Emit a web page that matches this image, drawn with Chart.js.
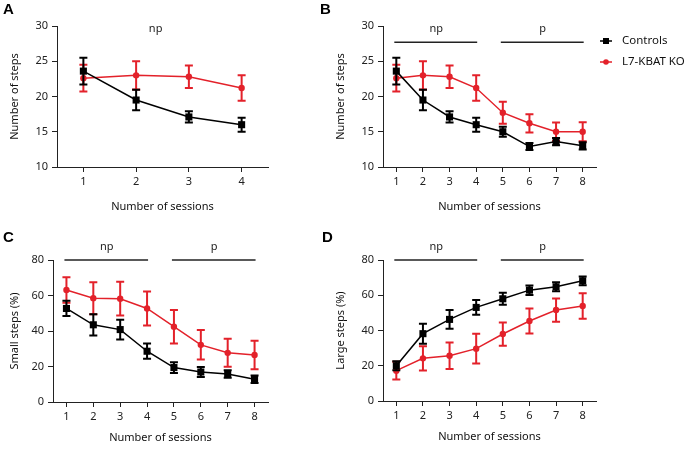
<!DOCTYPE html>
<html><head><meta charset="utf-8">
<script src="https://cdn.jsdelivr.net/npm/chart.js@4/dist/chart.umd.min.js"></script>
<style>
html,body{margin:0;padding:0;background:#fff;}
#wrap{position:relative;width:688px;height:452px;overflow:hidden;background:#fff;}
canvas{position:absolute;}
</style></head><body>
<div id="wrap">
<canvas id="cA" style="left:0px;top:0px;width:330px;height:220px" width="330" height="220"></canvas>
<canvas id="cB" style="left:316px;top:0px;width:372px;height:220px" width="372" height="220"></canvas>
<canvas id="cC" style="left:0px;top:220px;width:330px;height:232px" width="330" height="232"></canvas>
<canvas id="cD" style="left:316px;top:220px;width:372px;height:232px" width="372" height="232"></canvas>
</div>
<script>
// ---------- data ----------
const seriesNames = ['Controls', 'L7-KBAT KO'];
const sessions4 = ['1', '2', '3', '4'];
const sessions8 = ['1', '2', '3', '4', '5', '6', '7', '8'];

const stepsCtrl    = [23.6, 19.5, 17.1, 16.0, 15.0, 12.9, 13.6, 13.0];
const stepsCtrlErr = [1.9, 1.45, 0.8, 1.0, 0.7, 0.5, 0.5, 0.5];
const stepsKO      = [22.6, 23.0, 22.8, 21.2, 17.7, 16.2, 15.0, 15.0];
const stepsKOErr   = [1.9, 2.0, 1.6, 1.8, 1.55, 1.3, 1.3, 1.35];

const smallCtrl    = [52.7, 43.5, 40.8, 28.6, 19.4, 16.9, 15.8, 12.8];
const smallCtrlErr = [4.3, 6.0, 5.6, 4.3, 3.0, 2.8, 2.1, 2.1];
const smallKO      = [63.1, 58.5, 58.2, 52.7, 42.4, 32.2, 27.7, 26.5];
const smallKOErr   = [7.2, 9.0, 9.5, 9.6, 9.5, 8.3, 7.9, 8.0];

const largeCtrl    = [20.0, 38.2, 46.3, 53.1, 58.0, 62.9, 64.8, 68.2];
const largeCtrlErr = [2.5, 5.7, 5.3, 4.2, 3.4, 2.7, 2.6, 2.5];
const largeKO      = [17.2, 24.2, 25.7, 29.7, 38.0, 45.4, 51.6, 53.9];
const largeKOErr   = [5.0, 6.9, 7.5, 8.4, 6.6, 7.1, 6.6, 7.2];

const stepsAxis = {min: 10, max: 30, step: 5};
const pctAxis   = {min: 0, max: 80, step: 20};
const sigLabels = ['np', 'p'];
const sigRanges = [[1, 4], [5, 8]];

// ---------- style ----------
const BLACK = '#000000';
const RED = '#e3212a';
const AX = '#222222';
const FONT = '"Noto Sans", "Open Sans", sans-serif';

const errorBars = {
  id: 'errorBars',
  beforeDatasetDraw(chart, args) {
    const ds = chart.data.datasets[args.index];
    if (!ds.errors) return;
    const ys = chart.scales.y;
    const ctx = chart.ctx;
    ctx.save();
    ctx.strokeStyle = ds.borderColor;
    ctx.lineWidth = 2;
    args.meta.data.forEach((pt, i) => {
      const v = ds.data[i], e = ds.errors[i];
      const yt = ys.getPixelForValue(v + e), yb = ys.getPixelForValue(v - e);
      const cw = 4;
      ctx.beginPath();
      ctx.moveTo(pt.x, yt); ctx.lineTo(pt.x, yb);
      ctx.moveTo(pt.x - cw, yt); ctx.lineTo(pt.x + cw, yt);
      ctx.moveTo(pt.x - cw, yb); ctx.lineTo(pt.x + cw, yb);
      ctx.stroke();
    });
    ctx.restore();
  }
};

const deco = {
  id: 'deco',
  afterDraw(chart, args, opts) {
    const ctx = chart.ctx, xs = chart.scales.x, ys = chart.scales.y;
    ctx.save();
    ctx.fillStyle = '#000';
    ctx.textBaseline = 'middle';
    ctx.textAlign = 'left';
    ctx.font = 'bold 15px "Liberation Sans", Arial, sans-serif';
    ctx.fillText(opts.letter, opts.letterX, opts.letterY);
    ctx.font = '11px ' + FONT;
    ctx.fillStyle = '#222';
    ctx.textAlign = 'center';
    (opts.sig || []).forEach(s => {
      const x1 = xs.getPixelForValue(s.range[0] - 1);
      const x2 = xs.getPixelForValue(s.range[1] - 1);
      const yb = ys.getPixelForValue(s.level);
      if (s.bar) {
        ctx.strokeStyle = '#222';
        ctx.lineWidth = 1.5;
        ctx.beginPath();
        ctx.moveTo(x1 - 2, yb); ctx.lineTo(x2 + 1, yb);
        ctx.stroke();
      }
      const xt = s.textAt != null ? xs.getPixelForValue(s.textAt - 1) : (x1 + x2) / 2;
      ctx.fillText(s.label, xt, yb - 13);
    });
    if (opts.legend) {
      const L = opts.legend;
      chart.data.datasets.forEach((ds, i) => {
        const y = L.y + i * 21;
        ctx.strokeStyle = ds.borderColor;
        ctx.fillStyle = ds.borderColor;
        ctx.lineWidth = 1.5;
        ctx.beginPath();
        ctx.moveTo(L.x, y); ctx.lineTo(L.x + 12, y);
        ctx.stroke();
        const cx = L.x + 6;
        ctx.beginPath();
        if (ds.pointStyle === 'rect') ctx.rect(cx - 3, y - 3, 6, 6);
        else ctx.arc(cx, y, 2.8, 0, Math.PI * 2);
        ctx.fill();
        ctx.font = '11.5px ' + FONT;
        ctx.fillStyle = '#111';
        ctx.textAlign = 'left';
        ctx.fillText(ds.label, L.x + 22, y);
      });
    }
    ctx.restore();
  }
};

function makePanel(id, cfg) {
  const tickFont = {family: FONT, size: 11};
  return new Chart(document.getElementById(id), {
    type: 'line',
    data: {
      labels: cfg.labels,
      datasets: [
        {label: seriesNames[0], data: cfg.ctrl, errors: cfg.ctrlErr, borderColor: BLACK, backgroundColor: BLACK,
         pointStyle: 'rect', pointRadius: 5, pointBorderWidth: 0, borderWidth: 1.5, tension: 0},
        {label: seriesNames[1], data: cfg.ko, errors: cfg.koErr, borderColor: RED, backgroundColor: RED,
         pointStyle: 'circle', pointRadius: 3.2, pointBorderWidth: 0, borderWidth: 1.5, tension: 0}
      ]
    },
    options: {
      responsive: false, animation: false, events: [],
      layout: {autoPadding: false, padding: cfg.pad},
      plugins: {
        legend: {display: false}, tooltip: {enabled: false},
        deco: {letter: cfg.letter, letterX: cfg.letterX, letterY: cfg.letterY, sig: cfg.sig, legend: cfg.legend}
      },
      scales: {
        x: {
          type: 'category', offset: true,
          grid: {offset: false, drawOnChartArea: false, drawTicks: true, tickLength: 5, color: AX, lineWidth: 1},
          border: {color: AX, width: 1},
          ticks: {font: tickFont, color: '#222', padding: 3, maxRotation: 0},
          title: {display: true, text: 'Number of sessions', font: tickFont, color: '#111', padding: {top: 4, bottom: 4}},
          afterFit(s) { s.height = cfg.xH; }
        },
        y: {
          min: cfg.axis.min, max: cfg.axis.max,
          ticks: {stepSize: cfg.axis.step, font: tickFont, color: '#222', padding: 4},
          grid: {drawOnChartArea: false, drawTicks: true, tickLength: 5, color: AX, lineWidth: 1},
          border: {color: AX, width: 1},
          title: {display: true, text: cfg.yTitle, font: tickFont, color: '#111', padding: {top: cfg.yTitlePad, bottom: 0}},
          afterFit(s) { s.width = cfg.yW; }
        }
      }
    },
    plugins: [errorBars, deco]
  });
}

const sig = (levels, bars, textAts) => sigLabels.map((lab, i) => ({
  label: lab, range: sigRanges[i], level: levels, bar: bars, textAt: textAts ? textAts[i] : null
}));

makePanel('cA', {
  labels: sessions4,
  ctrl: stepsCtrl.slice(0, 4), ctrlErr: stepsCtrlErr.slice(0, 4),
  ko: stepsKO.slice(0, 4), koErr: stepsKOErr.slice(0, 4),
  axis: stepsAxis, yTitle: 'Number of steps',
  pad: {left: 0, top: 26, right: 62, bottom: 3}, xH: 50, yW: 57, yTitlePad: 8,
  letter: 'A', letterX: 3, letterY: 10,
  sig: [{label: sigLabels[0], range: sigRanges[0], level: 27.7, bar: false, textAt: 2.37}]
});

makePanel('cB', {
  labels: sessions8,
  ctrl: stepsCtrl, ctrlErr: stepsCtrlErr, ko: stepsKO, koErr: stepsKOErr,
  axis: stepsAxis, yTitle: 'Number of steps',
  pad: {left: 0, top: 26, right: 92, bottom: 3}, xH: 50, yW: 67, yTitlePad: 18,
  letter: 'B', letterX: 4, letterY: 10,
  sig: sig(27.7, true),
  legend: {x: 284, y: 41}
});

makePanel('cC', {
  labels: sessions8,
  ctrl: smallCtrl, ctrlErr: smallCtrlErr, ko: smallKO, koErr: smallKOErr,
  axis: pctAxis, yTitle: 'Small steps (%)',
  pad: {left: 0, top: 40, right: 62, bottom: 4}, xH: 46, yW: 53, yTitlePad: 8,
  letter: 'C', letterX: 3, letterY: 18,
  sig: sig(80, true)
});

makePanel('cD', {
  labels: sessions8,
  ctrl: largeCtrl, ctrlErr: largeCtrlErr, ko: largeKO, koErr: largeKOErr,
  axis: pctAxis, yTitle: 'Large steps (%)',
  pad: {left: 0, top: 40, right: 92, bottom: 5}, xH: 46, yW: 67, yTitlePad: 18,
  letter: 'D', letterX: 6, letterY: 18,
  sig: sig(80, true)
});
</script>
</body></html>
